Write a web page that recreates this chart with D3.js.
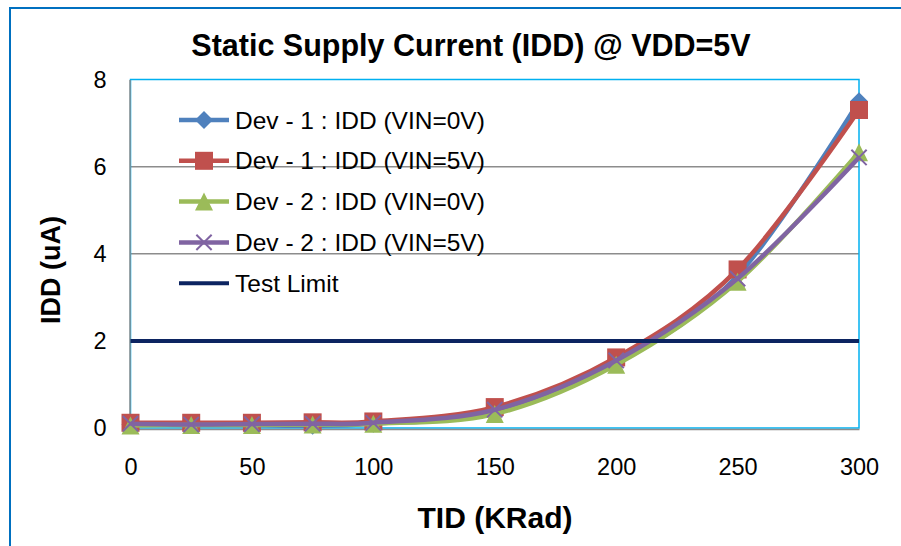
<!DOCTYPE html>
<html>
<head>
<meta charset="utf-8">
<script src="https://cdn.jsdelivr.net/npm/d3@7"></script>
<style>
  body { margin: 0; background: #fff; }
  svg { display: block; font-family: "Liberation Sans", Arial, sans-serif; }
</style>
</head>
<body>
<svg id="chart" width="901" height="546"></svg>
<script>
// TID dose points (KRad)
var tid = [0, 25, 50, 75, 100, 150, 200, 250, 300];

var dev1Vin0 = [0.08, 0.07, 0.07, 0.05, 0.10, 0.35, 1.48, 3.50, 7.50];
var dev1Vin5 = [0.12, 0.12, 0.12, 0.13, 0.15, 0.48, 1.62, 3.64, 7.30];
var dev2Vin0 = [0.06, 0.07, 0.07, 0.08, 0.10, 0.32, 1.45, 3.36, 6.33];
var dev2Vin5 = [0.10, 0.08, 0.09, 0.10, 0.12, 0.42, 1.55, 3.43, 6.21];

var limitX = [0, 25, 50, 75, 100, 125, 150, 175, 200, 225, 250, 275, 300];
var limitY = [2, 2, 2, 2, 2, 2, 2, 2, 2, 2, 2, 2, 2];

var xTicks = [0, 50, 100, 150, 200, 250, 300];
var yTicks = [0, 2, 4, 6, 8];

var seriesNames = ["Dev - 1 : IDD (VIN=0V)", "Dev - 1 : IDD (VIN=5V)",
                   "Dev - 2 : IDD (VIN=0V)", "Dev - 2 : IDD (VIN=5V)"];
var seriesColors = ["#4f81bd", "#c0504d", "#9bbb59", "#8064a2"];
var seriesMarkers = ["diamond", "square", "triangle", "cross"];

var series = [dev1Vin0, dev1Vin5, dev2Vin0, dev2Vin5].map(function(vals, i){
  return {
    name: seriesNames[i],
    color: seriesColors[i],
    marker: seriesMarkers[i],
    points: vals.map(function(v, j){ return [tid[j], v]; })
  };
});

var svg = d3.select("#chart");

// outer chart frame (runs off the right / bottom edge)
svg.append("rect")
  .attr("x", 10).attr("y", 8)
  .attr("width", 950).attr("height", 600)
  .attr("fill", "none")
  .attr("stroke", "#0070c0")
  .attr("stroke-width", 2);

var x = d3.scaleLinear().domain([0, 300]).range([130.5, 859]);
var y = d3.scaleLinear().domain([0, 8]).range([428, 79.5]);

// gridlines
svg.append("g").selectAll("line.grid")
  .data(yTicks.filter(function(t){ return t > 0 && t < 8; }))
  .enter().append("line")
  .attr("x1", x(0)).attr("x2", x(300))
  .attr("y1", function(d){ return y(d); })
  .attr("y2", function(d){ return y(d); })
  .attr("stroke", "#8c8c8c")
  .attr("stroke-width", 1.5);

// plot area border
svg.append("rect")
  .attr("x", x(0)).attr("y", y(8))
  .attr("width", x(300) - x(0)).attr("height", y(0) - y(8))
  .attr("fill", "none")
  .attr("stroke", "#00b0f0")
  .attr("stroke-width", 1.5);

// axes (grey lines, no ticks)
var xAxis = d3.axisBottom(x).tickValues(xTicks).tickSize(0).tickPadding(29);
var yAxis = d3.axisLeft(y).tickValues(yTicks).tickSize(0).tickPadding(23);

var gx = svg.append("g").attr("transform", "translate(0," + (y(0) + 1) + ")").call(xAxis);
var gy = svg.append("g").attr("transform", "translate(" + (x(0) - 1) + ",0)").call(yAxis);

[gx, gy].forEach(function(g){
  g.select(".domain").attr("stroke", "#8c8c8c").attr("stroke-width", 1.5);
  g.selectAll("text")
    .attr("fill", "#000")
    .style("font-family", "'Liberation Sans', Arial, sans-serif")
    .style("font-size", "23.5px");
});

var line = d3.line()
  .x(function(d){ return x(d[0]); })
  .y(function(d){ return y(d[1]); })
  .curve(d3.curveCardinal.tension(0));

function drawMarker(g, type, color, size){
  var h = size / 2;
  if (type == "diamond") {
    g.append("path")
      .attr("d", "M0," + (-h) + "L" + h + ",0L0," + h + "L" + (-h) + ",0Z")
      .attr("fill", color);
  } else if (type == "square") {
    g.append("rect")
      .attr("x", -h).attr("y", -h).attr("width", size).attr("height", size)
      .attr("fill", color);
  } else if (type == "triangle") {
    g.append("path")
      .attr("d", "M0," + (-h) + "L" + h + "," + h + "L" + (-h) + "," + h + "Z")
      .attr("fill", color);
  } else if (type == "cross") {
    var c = h * 0.85;
    g.append("path")
      .attr("d", "M" + (-c) + "," + (-c) + "L" + c + "," + c + "M" + (-c) + "," + c + "L" + c + "," + (-c))
      .attr("stroke", color)
      .attr("stroke-width", 2)
      .attr("fill", "none");
  }
}

// series: line first, then its markers (Excel draws one series at a time)
series.forEach(function(s){
  var g = svg.append("g");
  g.append("path")
    .datum(s.points)
    .attr("d", line)
    .attr("fill", "none")
    .attr("stroke", s.color)
    .attr("stroke-width", 4.5)
    .attr("stroke-linejoin", "round");
  g.selectAll("g.mk")
    .data(s.points)
    .enter().append("g")
    .classed("mk", true)
    .attr("transform", function(d){ return "translate(" + x(d[0]) + "," + y(d[1]) + ")"; })
    .each(function(){ drawMarker(d3.select(this), s.marker, s.color, 18); });
});

// test limit
var limitPts = limitX.map(function(v, i){ return [v, limitY[i]]; });
svg.append("path")
  .datum(limitPts)
  .attr("d", d3.line().x(function(d){ return x(d[0]); }).y(function(d){ return y(d[1]); }))
  .attr("fill", "none")
  .attr("stroke", "#0c2461")
  .attr("stroke-width", 4);

// legend
var legendItems = series.map(function(s){ return { name: s.name, color: s.color, marker: s.marker }; });
legendItems.push({ name: "Test Limit", color: "#0c2461", marker: null });

var legend = svg.append("g");
legendItems.forEach(function(item, i){
  var ly = 120 + i * 40.8;
  var lg = legend.append("g").attr("transform", "translate(0," + ly + ")");
  lg.append("line")
    .attr("x1", 179).attr("x2", 229)
    .attr("stroke", item.color)
    .attr("stroke-width", item.marker ? 4.5 : 4);
  if (item.marker) {
    drawMarker(lg.append("g").attr("transform", "translate(204,0)"), item.marker, item.color, 18);
  }
  lg.append("text")
    .attr("x", 235).attr("y", 8.5)
    .style("font-size", "24.5px")
    .attr("fill", "#000")
    .text(item.name);
});

// titles
svg.append("text")
  .attr("x", 471).attr("y", 56)
  .attr("text-anchor", "middle")
  .style("font-size", "30.5px")
  .style("font-weight", "bold")
  .text("Static Supply Current (IDD) @ VDD=5V");

svg.append("text")
  .attr("x", 495).attr("y", 528)
  .attr("text-anchor", "middle")
  .style("font-size", "30px")
  .style("font-weight", "bold")
  .text("TID (KRad)");

svg.append("text")
  .attr("transform", "translate(60,270) rotate(-90)")
  .attr("text-anchor", "middle")
  .style("font-size", "27px")
  .style("font-weight", "bold")
  .text("IDD (uA)");
</script>
</body>
</html>
